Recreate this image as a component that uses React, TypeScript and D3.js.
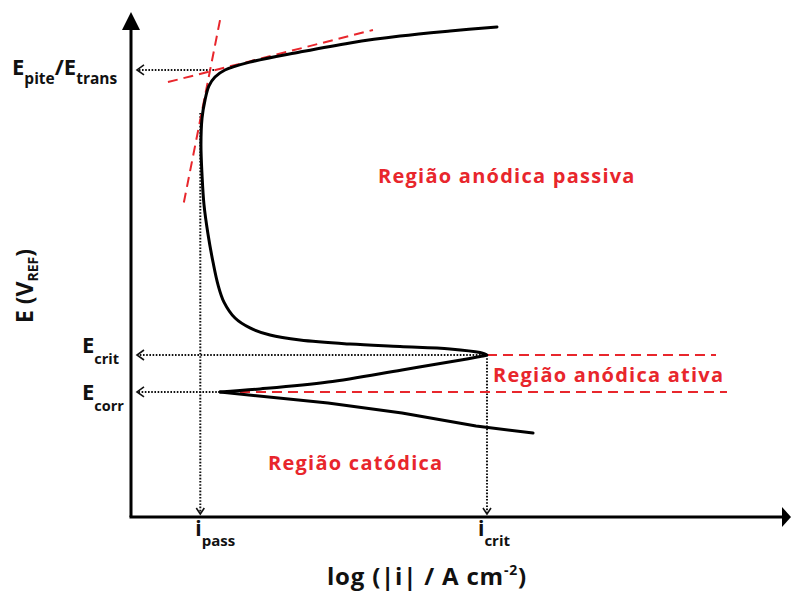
import React from "react";
import * as d3 from "d3";

const W = 791;
const H = 593;

// Characteristic levels: log|i| in decades, E in volts
const iPass = -8.16;
const iCrit = -4.685;
const ePite = 1.213;
const eCrit = -0.198;
const eCorr = -0.381;
const eCorrLogI = -7.921;
const ePassStart = 1.0;

// Anodic branch, from Ecorr up through the active nose and the passive region
const anodicLogI = [
  -7.921, -7.436, -6.612, -5.715, -5.0, -4.77, -4.685, -4.77, -5.133, -5.739,
  -6.345, -6.952, -7.315, -7.558, -7.739, -7.873, -7.945, -8.006, -8.067,
  -8.115, -8.139, -8.152, -8.139, -8.103, -8.055, -7.982, -7.861, -7.558,
  -6.952, -6.345, -5.739, -5.133, -4.564,
];
const anodicE = [
  -0.381, -0.366, -0.332, -0.272, -0.223, -0.205, -0.198, -0.186, -0.168,
  -0.156, -0.144, -0.124, -0.099, -0.064, -0.015, 0.064, 0.149, 0.262, 0.401,
  0.545, 0.693, 0.842, 0.975, 1.064, 1.134, 1.178, 1.213, 1.252, 1.302, 1.347,
  1.381, 1.406, 1.426,
];

// Cathodic branch, from Ecorr downward
const cathodicLogI = [-7.921, -6.612, -5.715, -4.818, -4.127];
const cathodicE = [-0.381, -0.436, -0.485, -0.55, -0.584];

// Tangent construction for the pitting / transpassive potential
const steepTangentLogI = [-7.921, -8.37];
const steepTangentE = [1.46, 0.535];
const flatTangentLogI = [-8.552, -6.067];
const flatTangentE = [1.153, 1.411];

// Extent of the dashed boundaries of the active region
const critDashEnd = -1.909;
const corrDashStart = -7.679;
const corrDashEnd = -1.776;

const regionLabels = ["Região anódica passiva", "Região anódica ativa", "Região catódica"];
const regionLabelLogI = [-6.006, -4.612, -7.339];
const regionLabelE = [0.653, -0.332, -0.767];

const xDomain: [number, number] = [-9, -1];
const yDomain: [number, number] = [-1.0, 1.5];

const RED = "#e8262c";
const FONT = "'Open Sans', sans-serif";

export default function App() {
  const x = d3.scaleLinear().domain(xDomain).range([131, 791]);
  const y = d3.scaleLinear().domain(yDomain).range([517, 12]);

  const x0 = x(xDomain[0]);
  const y0 = y(yDomain[0]);

  const smooth = d3
    .line<[number, number]>()
    .x((d) => x(d[0]))
    .y((d) => y(d[1]))
    .curve(d3.curveCatmullRom.alpha(0.5));
  const straight = d3
    .line<[number, number]>()
    .x((d) => x(d[0]))
    .y((d) => y(d[1]));

  const anodic = anodicLogI.map((v, k) => [v, anodicE[k]] as [number, number]);
  const cathodic = cathodicLogI.map((v, k) => [v, cathodicE[k]] as [number, number]);
  const steep = steepTangentLogI.map((v, k) => [v, steepTangentE[k]] as [number, number]);
  const flat = flatTangentLogI.map((v, k) => [v, flatTangentE[k]] as [number, number]);

  const dotted = { stroke: "#111", strokeWidth: 2, strokeDasharray: "1.6 1.6", fill: "none" };
  const dashed = { stroke: RED, strokeWidth: 2, strokeDasharray: "10 6", fill: "none" };

  // dotted leader with an open chevron pointing at the E axis
  const hArrow = (fromLogI: number, e: number, key: string) => {
    const yy = y(e);
    const tip = x0 + 6;
    return (
      <g key={key}>
        <line x1={x(fromLogI)} y1={yy} x2={tip + 1} y2={yy} {...dotted} />
        <path d={`M${tip + 7},${yy - 5}L${tip},${yy}L${tip + 7},${yy + 5}`} stroke="#111" strokeWidth={1.6} fill="none" />
      </g>
    );
  };
  // dotted leader with an open chevron pointing at the log i axis
  const vArrow = (logI: number, fromE: number, key: string) => {
    const xx = x(logI);
    const tip = y0 - 3;
    return (
      <g key={key}>
        <line x1={xx} y1={y(fromE)} x2={xx} y2={tip - 1} {...dotted} />
        <path d={`M${xx - 4},${tip - 6}L${xx},${tip}L${xx + 4},${tip - 6}`} stroke="#111" strokeWidth={1.6} fill="none" />
      </g>
    );
  };

  return (
    <svg
      width={W}
      height={H}
      viewBox={`0 0 ${W} ${H}`}
      style={{ position: "absolute", left: 0, top: 0, background: "#fff" }}
      fontFamily={FONT}
    >
      <rect width={W} height={H} fill="#fff" />

      {/* axes */}
      <line x1={x0} y1={y0} x2={x0} y2={28} stroke="#000" strokeWidth={3} />
      <path d={`M${x0},12L${x0 + 9},30L${x0 - 9},30Z`} fill="#000" />
      <line x1={x0 - 1.5} y1={y0} x2={784} y2={y0} stroke="#000" strokeWidth={3} />
      <path d={`M791,${y0}L782,${y0 - 10}L782,${y0 + 10}Z`} fill="#000" />

      {/* leaders to the axes */}
      {vArrow(iPass, ePassStart, "vp")}
      {vArrow(iCrit, eCrit, "vc")}
      {hArrow(-7.994, ePite, "hp")}
      {hArrow(iCrit, eCrit, "hc")}
      {hArrow(eCorrLogI, eCorr, "he")}

      {/* tangents and active-region bounds */}
      <path d={straight(steep) ?? ""} {...dashed} />
      <path d={straight(flat) ?? ""} {...dashed} />
      <line x1={x(iCrit)} y1={y(eCrit)} x2={x(critDashEnd)} y2={y(eCrit)} {...dashed} />
      <line x1={x(corrDashStart)} y1={y(eCorr)} x2={x(corrDashEnd)} y2={y(eCorr)} {...dashed} />

      {/* polarization curve */}
      <path d={smooth(anodic) ?? ""} stroke="#000" strokeWidth={3} fill="none" strokeLinejoin="round" strokeLinecap="round" />
      <path d={straight(cathodic) ?? ""} stroke="#000" strokeWidth={3} fill="none" strokeLinejoin="round" strokeLinecap="round" />

      {/* region labels */}
      {regionLabels.map((t, k) => (
        <text
          key={t}
          x={x(regionLabelLogI[k])}
          y={y(regionLabelE[k])}
          fill={RED}
          fontSize={20}
          fontWeight={700}
          letterSpacing={1.25}
        >
          {t}
        </text>
      ))}

      {/* potential labels */}
      <text x={12} y={y(ePite) + 5} fontSize={22} fontWeight={700} fill="#111">
        E<tspan fontSize={15.5} dy={9}>pite</tspan>
        <tspan dy={-9}>/E</tspan>
        <tspan fontSize={15.5} dy={9}>trans</tspan>
      </text>
      <text x={82} y={y(eCrit) - 2} fontSize={22} fontWeight={700} fill="#111">
        E<tspan fontSize={14.5} dy={11}>crit</tspan>
      </text>
      <text x={82} y={y(eCorr) + 8} fontSize={22} fontWeight={700} fill="#111">
        E<tspan fontSize={14.5} dy={11}>corr</tspan>
      </text>

      {/* current labels */}
      <text x={x(iPass) - 5} y={536} fontSize={21} fontWeight={700} fill="#111">
        i<tspan fontSize={15} dy={10}>pass</tspan>
      </text>
      <text x={x(iCrit) - 9} y={536} fontSize={21} fontWeight={700} fill="#111">
        i<tspan fontSize={15} dy={10}>crit</tspan>
      </text>

      {/* axis titles */}
      <text x={427} y={585} textAnchor="middle" fontSize={24} fontWeight={700} fill="#111" letterSpacing={0.8}>
        log (|i| / A cm<tspan fontSize={14} dy={-10}>-2</tspan>
        <tspan dy={10}>)</tspan>
      </text>
      <text transform="translate(33,286) rotate(-90)" textAnchor="middle" fontSize={23} fontWeight={700} fill="#111">
        E (V<tspan fontSize={14} dy={5}>REF</tspan>
        <tspan dy={-5}>)</tspan>
      </text>
    </svg>
  );
}
